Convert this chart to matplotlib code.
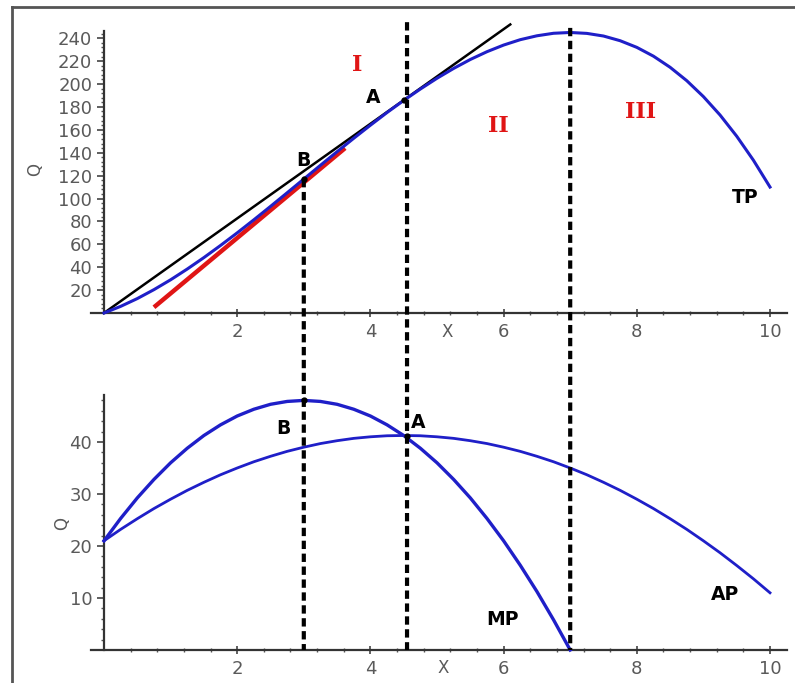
import matplotlib
matplotlib.use("Agg")
import matplotlib.pyplot as plt
import numpy as np
from matplotlib.patches import ConnectionPatch
from matplotlib.lines import Line2D

# ---------------- data ----------------
x_vals = [0, 0.25, 0.5, 0.75, 1, 1.25, 1.5, 1.75, 2, 2.25, 2.5, 2.75, 3,
          3.25, 3.5, 3.75, 4, 4.25, 4.5, 4.75, 5, 5.25, 5.5, 5.75, 6,
          6.25, 6.5, 6.75, 7, 7.25, 7.5, 7.75, 8, 8.25, 8.5, 8.75, 9,
          9.25, 9.5, 9.75, 10]
tp_vals = [0, 5.8, 12.6, 20.4, 29, 38.4, 48.4, 59.0, 70, 81.4, 93.1, 105.0,
           117, 129.0, 140.9, 152.6, 164, 175.1, 185.6, 195.6, 205, 213.6,
           221.4, 228.2, 234, 238.7, 242.1, 244.3, 245, 244.2, 241.9, 237.8,
           232, 224.3, 214.6, 202.9, 189, 172.9, 154.4, 133.5, 110]
ap_vals = [21, 23.2, 25.25, 27.2, 29, 30.7, 32.25, 33.7, 35, 36.2, 37.25,
           38.2, 39, 39.7, 40.25, 40.7, 41, 41.2, 41.25, 41.2, 41, 40.7,
           40.25, 39.7, 39, 38.2, 37.25, 36.2, 35, 33.7, 32.25, 30.7, 29,
           27.2, 25.25, 23.2, 21, 18.7, 16.25, 13.7, 11]
mp_x = [0, 0.25, 0.5, 0.75, 1, 1.25, 1.5, 1.75, 2, 2.25, 2.5, 2.75, 3,
        3.25, 3.5, 3.75, 4, 4.25, 4.5, 4.75, 5, 5.25, 5.5, 5.75, 6,
        6.25, 6.5, 6.75, 7]
mp_vals = [21, 25.3, 29.25, 32.8, 36, 38.8, 41.25, 43.3, 45, 46.3, 47.25,
           47.8, 48, 47.8, 47.25, 46.3, 45, 43.3, 41.25, 38.8, 36, 32.8,
           29.25, 25.3, 21, 16.3, 11.25, 5.8, 0]

ray_x = [0, 6.1]          # ray from origin tangent at A
ray_y = [0, 252]
tanB_x = [0.75, 3.62]     # tangent at B (red)
tanB_y = [5, 144]

vline_x = [3, 4.55, 7]
vline_top = [117, 254, 249]

top_yticks = [20, 40, 60, 80, 100, 120, 140, 160, 180, 200, 220, 240]
bot_yticks = [10, 20, 30, 40]
xticks = [2, 4, 6, 8, 10]

# ---------------- figure ----------------
W, H = 795, 683
fig = plt.figure(figsize=(W / 100, H / 100), dpi=100)
fig.patch.set_facecolor("white")

px_per_x = 66.6
x0_px = 104
xlim = (-0.25, 10.35)
left_px = x0_px + xlim[0] * px_per_x
width_px = (xlim[1] - xlim[0]) * px_per_x

# top axes
t_y0, t_scale = 313, 1.145
t_ylim = (-4, 262)
t_bot = t_y0 - t_ylim[0] * t_scale
t_top = t_y0 - t_ylim[1] * t_scale
ax1 = fig.add_axes([left_px / W, (H - t_bot) / H, width_px / W, (t_bot - t_top) / H])
# bottom axes
b_y0, b_scale = 650, 5.2
b_ylim = (-1.5, 50)
b_bot = b_y0 - b_ylim[0] * b_scale
b_top = b_y0 - b_ylim[1] * b_scale
ax2 = fig.add_axes([left_px / W, (H - b_bot) / H, width_px / W, (b_bot - b_top) / H])

blue = "#1f1fc8"
tickcol = "#5a5a5a"

for ax, ylim, ytop in ((ax1, t_ylim, 246), (ax2, b_ylim, 49)):
    ax.set_xlim(*xlim)
    ax.set_ylim(*ylim)
    ax.patch.set_alpha(0)
    for s in ("top", "right"):
        ax.spines[s].set_visible(False)
    ax.spines["left"].set_position(("data", 0))
    ax.spines["bottom"].set_position(("data", 0))
    ax.spines["left"].set_bounds(0, ytop)
    ax.spines["bottom"].set_bounds(-0.2, 10.25)
    for s in ("left", "bottom"):
        ax.spines[s].set_color("#333333")
        ax.spines[s].set_linewidth(1.6)
    ax.set_xticks(xticks)
    ax.set_xticks(np.arange(0.4, 10.1, 0.4), minor=True)
    ax.tick_params(axis="both", which="major", direction="out", length=5,
                   width=1.2, color="#444444", labelsize=13, labelcolor=tickcol)
    ax.tick_params(axis="both", which="minor", direction="out", length=2.5,
                   width=1.0, color="#555555")
    ax.tick_params(axis="x", which="major", direction="inout", length=6, pad=4)
    ax.tick_params(axis="x", which="minor", direction="inout", length=3)

ax1.set_yticks(top_yticks)
ax1.set_yticks(np.arange(4, 245, 4), minor=True)
ax2.set_yticks(bot_yticks)
ax2.set_yticks(np.arange(2, 49, 2), minor=True)

# ---------------- top plot ----------------
ax1.plot(tanB_x, tanB_y, color="#e01515", lw=3.2, solid_capstyle="butt", zorder=3)
ax1.plot(ray_x, ray_y, color="black", lw=1.8, zorder=4, clip_on=False)
ax1.plot(x_vals, tp_vals, color=blue, lw=2.2, zorder=5, clip_on=False)
ax1.plot([3, 4.5], [117, 185.6], "o", color="black", ms=3.5, zorder=6)

bold_kw = dict(fontsize=13.5, fontweight="bold", color="black",
               ha="center", va="center", family="DejaVu Sans")
roman_kw = dict(fontsize=16, fontweight="bold", color="#e01515",
                ha="center", va="center", family="DejaVu Serif")
ax1.text(3.80, 216.6, "I", **roman_kw)
ax1.text(5.92, 163, "II", **roman_kw)
ax1.text(8.05, 175.5, "III", **roman_kw)
ax1.text(4.04, 188.6, "A", **bold_kw)
ax1.text(2.99, 133.6, "B", **bold_kw)
ax1.text(9.62, 101, "TP", **bold_kw)
ax1.text(5.15, -17, "X", fontsize=12, color=tickcol, ha="center", va="center")
ax1.text(-1.04, 125, "Q", fontsize=12, color=tickcol, ha="center", va="center",
         rotation=90, clip_on=False)

# ---------------- bottom plot ----------------
ax2.plot(x_vals, ap_vals, color=blue, lw=2.0, zorder=5, clip_on=False)
ax2.plot(mp_x, mp_vals, color=blue, lw=2.4, zorder=5, clip_on=False)
ax2.plot([3, 4.55], [48, 41.2], "o", color="black", ms=3.5, zorder=6)
ax2.text(2.69, 42.5, "B", **bold_kw)
ax2.text(4.71, 43.8, "A", **bold_kw)
ax2.text(5.99, 5.8, "MP", **bold_kw)
ax2.text(9.32, 10.6, "AP", **bold_kw)
ax2.text(5.09, -3.5, "X", fontsize=12, color=tickcol, ha="center", va="center",
         clip_on=False)
ax2.text(-0.63, 24.4, "Q", fontsize=12, color=tickcol, ha="center", va="center",
         rotation=90, clip_on=False)

# ---------------- vertical dashed lines across both panels ----------------
for xv, yt in zip(vline_x, vline_top):
    con = ConnectionPatch(xyA=(xv, yt), coordsA=ax1.transData,
                          xyB=(xv, 0), coordsB=ax2.transData,
                          color="black", lw=3.0, linestyle=(0, (2.0, 1.1)),
                          capstyle="butt", zorder=10)
    fig.add_artist(con)

# ---------------- outer frame (left and top edges) ----------------
fx = 12 / W
fy = 1 - 7 / H
fig.add_artist(Line2D([fx, fx], [0, fy], transform=fig.transFigure,
                      color="#555555", lw=2.0))
fig.add_artist(Line2D([fx, 1], [fy, fy], transform=fig.transFigure,
                      color="#555555", lw=2.0))

fig.savefig("out.png", dpi=100)
